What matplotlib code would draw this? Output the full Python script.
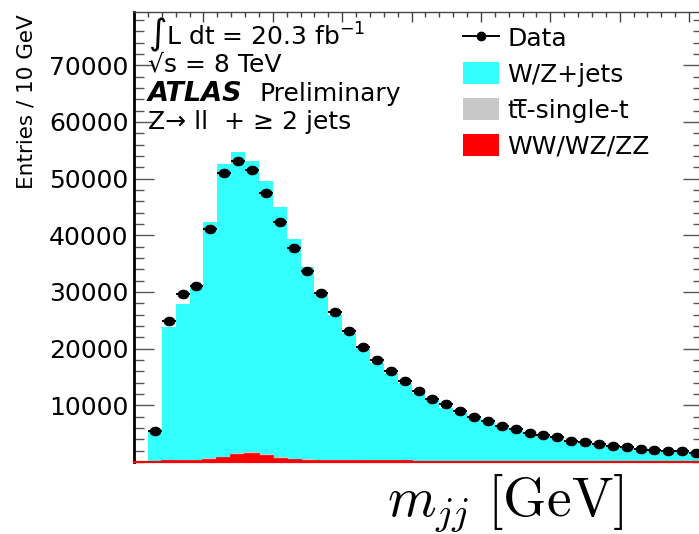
import numpy as np
import matplotlib
matplotlib.use("Agg")
import matplotlib.pyplot as plt
from matplotlib.path import Path
from matplotlib.patches import Patch
from matplotlib.lines import Line2D
from matplotlib.ticker import MultipleLocator, NullFormatter

# ---- histogram content: 10 GeV bins from 10 to 410 GeV ----
bin_edges = np.arange(10, 420, 10)

data_counts = [
    5520, 24920, 29580, 31100, 41090, 50920, 53140, 51500, 47500, 42380,
    37690, 33690, 29750, 26400, 23100, 20230, 17990, 16100, 14290, 12520,
    11110, 10170, 8990, 7990, 7230, 6400, 5770, 5170, 4820, 4350,
    3760, 3470, 3120, 2880, 2650, 2350, 2120, 1990, 1990, 1640,
]

# total of the stacked prediction (top of the W/Z+jets layer)
stack_total = [
    5300, 23750, 27810, 31220, 42380, 52560, 54730, 53090, 49560, 44920,
    39330, 34450, 29930, 25900, 22700, 20400, 17500, 15700, 13900, 12100,
    11200, 9500, 8700, 7800, 7000, 6250, 5600, 5050, 4650, 4200,
    3700, 3380, 3050, 2800, 2580, 2300, 2080, 1930, 1880, 1600,
]

ttbar_single_t = [
    10, 60, 110, 160, 220, 280, 320, 330, 320, 300,
    270, 240, 210, 180, 160, 140, 125, 110, 100, 90,
    80, 72, 65, 58, 52, 47, 43, 39, 36, 33,
    30, 28, 26, 24, 22, 21, 20, 19, 18, 17,
]

diboson = [
    40, 100, 170, 250, 400, 650, 1180, 1410, 1110, 530,
    300, 220, 180, 150, 130, 120, 110, 100, 90, 85,
    80, 75, 70, 65, 60, 57, 54, 51, 48, 45,
    43, 41, 39, 37, 35, 33, 31, 29, 28, 27,
]

legend_labels = ["Data", "W/Z+jets", "tt\u0305-single-t", "WW/WZ/ZZ"]

y_tick_values = [10000, 20000, 30000, 40000, 50000, 60000, 70000]

CYAN = "#33ffff"
GREY = "#c8c8c8"
RED = "#ff0000"
FONT = "DejaVu Sans"

W, H = 699, 534
fig = plt.figure(figsize=(W / 100, H / 100), dpi=100)
ax = fig.add_axes([134 / W, (H - 462) / H, (703 - 134) / W, (462 - 12) / H])

db = np.array(diboson, dtype=float)
tt = np.array(ttbar_single_t, dtype=float)
tot = np.array(stack_total, dtype=float)
wz = tot - tt - db

# stacked histograms: diboson at the bottom, then top, then W/Z+jets
ax.stairs(db + tt + wz, bin_edges, baseline=db + tt, fill=True, color=CYAN,
          linewidth=0, zorder=2)
ax.stairs(db + tt, bin_edges, baseline=db, fill=True, color=GREY,
          linewidth=0, zorder=3)
ax.stairs(db, bin_edges, baseline=0, fill=True, facecolor=RED,
          edgecolor=RED, linewidth=1.2, zorder=4)

# data points with error bars (slightly oval markers)
theta = np.linspace(0, 2 * np.pi, 60)
oval = Path(np.column_stack([1.25 * np.cos(theta), np.sin(theta)]), closed=True)
centers = 0.5 * (bin_edges[:-1] + bin_edges[1:])
counts = np.array(data_counts, dtype=float)
ax.errorbar(centers, counts, xerr=5, yerr=np.sqrt(counts), fmt="none",
            ecolor="black", elinewidth=1.4, zorder=5)
ax.plot(centers, counts, linestyle="none", marker=oval, markersize=7.4,
        color="black", zorder=6)

ax.set_xlim(0, 410)
ax.set_ylim(0, 79400)

# axes frame and ticks
ax.spines["left"].set_linewidth(2.0)
ax.spines["top"].set_linewidth(1.0)
ax.spines["top"].set_color("#444444")
ax.spines["right"].set_linewidth(1.0)
ax.spines["bottom"].set_color(RED)
ax.spines["bottom"].set_linewidth(1.6)
ax.spines["bottom"].set_zorder(4)

ax.xaxis.set_major_locator(MultipleLocator(50))
ax.xaxis.set_minor_locator(MultipleLocator(10))
ax.xaxis.set_major_formatter(NullFormatter())
ax.tick_params(axis="x", which="both", direction="in", top=True, bottom=False,
               labelbottom=False, labeltop=False, color="#444444", width=1.0)
ax.tick_params(axis="x", which="major", length=7.2)
ax.tick_params(axis="x", which="minor", length=3.6)

ax.yaxis.set_minor_locator(MultipleLocator(2000))
ax.tick_params(axis="y", which="both", direction="in", left=True, right=True,
               color="#555555", width=1.0, pad=4)
ax.tick_params(axis="y", which="major", length=14.4, labelsize=18)
ax.tick_params(axis="y", which="minor", length=7.2)
ax.set_yticks(y_tick_values)
ax.set_yticklabels([str(v) for v in y_tick_values], fontsize=18, family=FONT)

fig.text(27 / W, 1 - 102 / H, "Entries / 10 GeV", rotation=90, ha="center",
         va="center", fontsize=15.5, family=FONT)

# annotation block
txt_kw = dict(family=FONT, ha="left", va="baseline")
fig.text(148 / W, 1 - 44 / H, "\u222bL dt = 20.3 fb$^{-1}$", fontsize=18,
         math_fontfamily="dejavusans", **txt_kw)
fig.text(148 / W, 1 - 71 / H, "\u221as = 8 TeV", fontsize=18, **txt_kw)
fig.text(148 / W, 1 - 101 / H, "ATLAS", fontweight="bold",
         fontstyle="italic", fontsize=19.5, **txt_kw)
fig.text(260 / W, 1 - 101 / H, "Preliminary", fontsize=18, **txt_kw)
fig.text(148 / W, 1 - 129 / H, "Z\u2192 ll  + \u2265 2 jets", fontsize=18,
         **txt_kw)

# legend
handles = [
    Line2D([], [], color="black", marker="o", markersize=6, linewidth=1.4),
    Patch(facecolor=CYAN, edgecolor="none"),
    Patch(facecolor=GREY, edgecolor="none"),
    Patch(facecolor=RED, edgecolor="none"),
]
ax.legend(handles, legend_labels, loc="upper left",
          bbox_to_anchor=(463 / W, 1 - 26 / H),
          bbox_transform=fig.transFigure, frameon=False,
          prop={"family": FONT, "size": 18},
          handlelength=1.45, handleheight=0.97, handletextpad=0.32,
          labelspacing=0.46, borderpad=0, borderaxespad=0)

fig.text(505 / W, 1 - 503 / H, r"$m_{jj}\ [\mathrm{GeV}]$", ha="center",
         va="center", fontsize=40, math_fontfamily="cm")

fig.savefig("out.png", dpi=100)
